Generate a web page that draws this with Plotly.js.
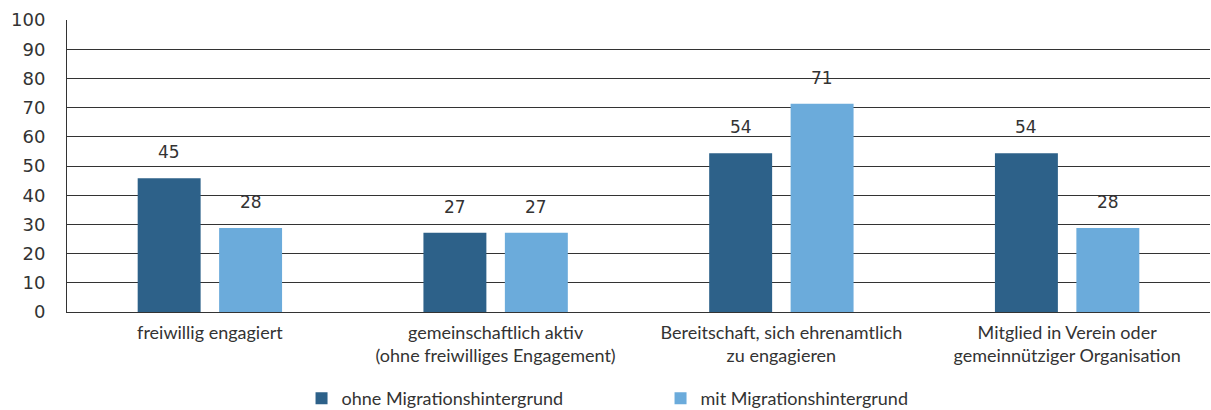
<!DOCTYPE html>
<html>
<head>
<meta charset="utf-8">
<script src="https://cdn.plot.ly/plotly-3.0.1.min.js"></script>
<style>html,body{margin:0;padding:0;background:#fff;}#chart{width:1211px;height:410px;}</style>
</head>
<body>
<div id="chart"></div>
<script>
const categories = [
  "freiwillig engagiert",
  "gemeinschaftlich aktiv<br>(ohne freiwilliges Engagement)",
  "Bereitschaft, sich ehrenamtlich<br>zu engagieren",
  "Mitglied in Verein oder<br>gemeinnütziger Organisation"
];
const seriesNames = ["ohne Migrationshintergrund", "mit Migrationshintergrund"];
const ohneValues = [45.8, 27.1, 54.4, 54.4];
const mitValues = [28.8, 27.1, 71.3, 28.8];
const ohneLabels = ["45", "27", "54", "54"];
const mitLabels = ["28", "27", "71", "28"];
const yTicks = [0, 10, 20, 30, 40, 50, 60, 70, 80, 90, 100];

const textFont = {family: "Lato, 'Open Sans', sans-serif", size: 18, color: "#333"};
const numFont = {family: "'DejaVu Sans', sans-serif", size: 17, color: "#333"};

const traces = [
  {type: "bar", name: seriesNames[0], x: categories, y: ohneValues,
   marker: {color: "#2D6189"}, hoverinfo: "none"},
  {type: "bar", name: seriesNames[1], x: categories, y: mitValues,
   marker: {color: "#6BABDB"}, hoverinfo: "none"}
];

const annotations = [];
categories.forEach((c, i) => {
  annotations.push({x: c, y: ohneValues[i], text: ohneLabels[i], showarrow: false,
    xshift: -40.75, yshift: 26, yanchor: "middle", font: numFont});
  annotations.push({x: c, y: mitValues[i], text: mitLabels[i], showarrow: false,
    xshift: 40.75, yshift: 26, yanchor: "middle", font: numFont});
});

const layout = {
  width: 1211, height: 410,
  margin: {l: 67, r: 1, t: 20, b: 98},
  paper_bgcolor: "#fff", plot_bgcolor: "#fff",
  barmode: "group", bargap: 0.43, bargroupgap: 0.227,
  font: textFont,
  annotations: annotations,
  xaxis: {
    type: "category", showgrid: false, showline: true, linecolor: "#333", linewidth: 1,
    ticks: "outside", ticklen: 0, ticklabelstandoff: 4, tickfont: textFont, fixedrange: true
  },
  yaxis: {
    range: [0, 100], tickvals: yTicks, ticktext: yTicks.map(String),
    showgrid: true, gridcolor: "#333", gridwidth: 1,
    showline: true, linecolor: "#333", linewidth: 1,
    zeroline: false, ticks: "outside", ticklen: 0, ticklabelstandoff: 17,
    tickfont: {family: "'DejaVu Sans', sans-serif", size: 18, color: "#333"},
    fixedrange: true
  },
  showlegend: true,
  legend: {
    orientation: "h", xref: "container", yref: "container", x: 0.249, y: 0.073, yanchor: "top",
    xanchor: "left", entrywidth: 314, entrywidthmode: "pixels",
    font: textFont, traceorder: "normal"
  }
};

Plotly.newPlot("chart", traces, layout, {displayModeBar: false, staticPlot: true});
</script>
</body>
</html>
